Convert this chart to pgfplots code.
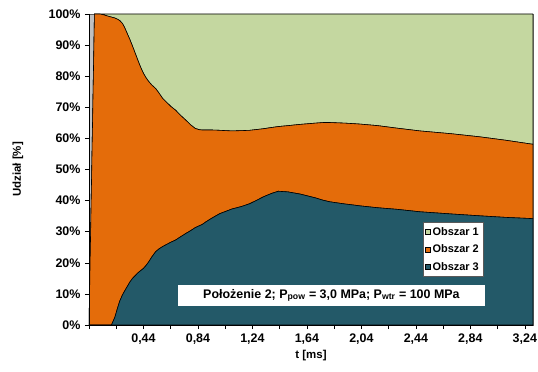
\documentclass[border=0pt]{standalone}
\usepackage{pgfplots}
\pgfplotsset{compat=1.18}
\usepackage{pgfplotstable}
\usepackage{fontspec}
\setmainfont{Liberation Sans}
\definecolor{obszA}{RGB}{196,215,160}
\definecolor{obszB}{RGB}{228,108,10}
\definecolor{obszC}{RGB}{35,89,104}
\definecolor{plotbg}{RGB}{192,192,192}
% t [ms], B = Obszar 3 (bottom), U = Obszar 3 + Obszar 2 (upper boundary)
\pgfplotstableread{
t     B     U
0.04  0     0
0.08  0     100
0.12  0     100
0.15  0     99.7
0.18  0     99.3
0.205 0     99.0
0.23  2.5   98.7
0.25  5.5   98.3
0.265 7.6   97.9
0.285 9.6   97.0
0.30  10.8  95.8
0.32  12.3  93.8
0.34  13.8  91.8
0.36  15.0  89.6
0.38  15.9  87.3
0.40  16.8  85.0
0.42  17.5  82.8
0.44  18.2  80.9
0.46  19.2  79.4
0.48  20.4  78.2
0.50  21.8  77.2
0.53  23.6  76.0
0.555 24.5  74.5
0.58  25.2  72.9
0.61  25.9  71.6
0.64  26.6  70.3
0.675 27.3  69.1
0.71  28.3  67.5
0.75  29.4  65.9
0.785 30.3  64.4
0.82  31.3  63.2
0.85  31.9  62.8
0.87  32.3  62.7
0.90  33.2  62.7
0.94  34.3  62.7
1.00  35.8  62.6
1.09  37.3  62.4
1.16  38.1  62.5
1.22  39.0  62.6
1.28  40.3  62.9
1.32  41.2  63.1
1.38  42.3  63.5
1.43  43.0  63.8
1.50  42.8  64.1
1.59  42.1  64.5
1.70  40.9  64.9
1.76  40.1  65.1
1.81  39.6  65.1
1.92  38.9  64.9
1.96  38.7  64.8
2.03  38.3  64.6
2.16  37.7  64.1
2.30  37.2  63.3
2.47  36.4  62.4
2.70  35.7  61.5
2.91  35.1  60.5
3.10  34.6  59.4
3.30  34.2  58.1
}\datatable
\pgfplotstablecreatecol[expr={\thisrow{U}-\thisrow{B}}]{O2}\datatable
\pgfplotstablecreatecol[expr={ifthenelse(\thisrow{t}<0.06,0,100-\thisrow{U})}]{O1}\datatable
\begin{document}
\begin{tikzpicture}
\useasboundingbox (-89bp,-47bp) rectangle (449bp,325bp);
\begin{axis}[
  at={(0,0)}, anchor=south west,
  scale only axis, width=444bp, height=311bp,
  xmin=0.04, xmax=3.30, ymin=0, ymax=100,
  stack plots=y,
  axis background/.style={fill=plotbg},
  axis line style={draw=gray!70!black, line width=0.6pt},
  xtick={0.44,0.84,1.24,1.64,2.04,2.44,2.84,3.24},
  xticklabels={{0,44},{0,84},{1,24},{1,64},{2,04},{2,44},{2,84},{3,24}},
  minor xtick={0.04,0.24,0.64,1.04,1.44,1.84,2.24,2.64,3.04},
  ytick={0,10,...,100},
  yticklabel={\pgfmathprintnumber{\tick}\%},
  /pgf/number format/assume math mode=true,
  tick align=outside,
  major tick length=4bp, minor tick length=4bp,
  tick style={black, line width=0.6pt},
  xtick pos=bottom, ytick pos=left,
  ticklabel style={font=\fontsize{12.5}{14}\selectfont\bfseries},
  xticklabel style={yshift=-1bp},
  yticklabel style={xshift=-1bp},
  xlabel={t [ms]}, ylabel={Udział [\%]},
  label style={font=\fontsize{11.5}{13}\selectfont\bfseries},
  xlabel style={at={(axis description cs:0.5,0)}, anchor=center, yshift=-31bp},
  ylabel style={at={(axis description cs:0,0.5)}, anchor=center, yshift=71bp},
  reverse legend,
  legend style={at={(rel axis cs:0.752,0.331)}, anchor=north west,
    fill=white, draw=gray!70!black, line width=0.5pt,
    font=\fontsize{11}{13}\selectfont\bfseries,
    inner xsep=2bp, inner ysep=3bp, row sep=4bp},
  legend cell align=left,
  legend image code/.code={\draw[#1,draw=black,line width=0.4pt] (0bp,-2.5bp) rectangle (5bp,2.5bp);},
  every axis plot/.append style={draw=black, line width=0.6pt},
]
\addplot[fill=obszC] table[x=t,y=B]{\datatable} \closedcycle;
\addlegendentry{Obszar 3}
\addplot[fill=obszB] table[x=t,y=O2]{\datatable} \closedcycle;
\addlegendentry{Obszar 2}
\addplot[fill=obszA] table[x=t,y=O1]{\datatable} \closedcycle;
\addlegendentry{Obszar 1}
\coordinate (boxc) at (rel axis cs:0.546,0.095);
\coordinate (ll) at (rel axis cs:0,0);
\coordinate (ul) at (rel axis cs:0,1);
\coordinate (lr) at (rel axis cs:1,0);
\end{axis}
\draw[black, line width=0.8pt] (ul) -- (ll) -- (lr);
\node[fill=white, inner sep=0pt, minimum height=21bp, minimum width=307bp,
  font=\fontsize{12.5}{15}\selectfont\bfseries] at (boxc)
  {Położenie 2; P\textsubscript{pow} = 3,0 MPa; P\textsubscript{wtr} = 100 MPa};
\end{tikzpicture}
\end{document}
